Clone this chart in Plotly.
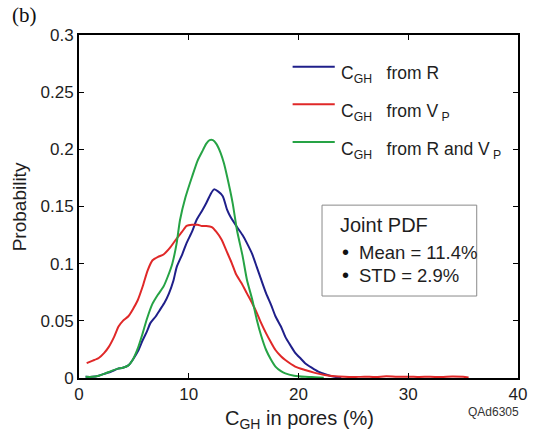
import plotly.graph_objects as go

# Concentration grid (%) and probability densities for each estimate
red_x = [0.7, 1.2, 1.8, 2.3, 2.7, 3.2, 3.6, 4.0, 4.5, 4.9, 5.35, 5.8, 6.25, 6.7, 7.2, 7.7, 8.3, 8.9,
         9.4, 9.8, 10.3, 10.8, 11.2, 11.6, 12.1, 12.5, 13.0, 13.4, 13.9, 14.3, 14.8, 15.3, 15.8, 16.2,
         16.6, 17.05, 17.5, 17.9, 18.4, 18.8, 19.7, 20.6, 21.5, 22.4, 23.3, 24.2, 25, 26, 27, 28, 29,
         30, 31, 32, 33, 34, 35, 35.5]
red_y = [0.013, 0.015, 0.0175, 0.022, 0.027, 0.036, 0.045, 0.050, 0.054, 0.060, 0.068, 0.080, 0.094,
         0.103, 0.106, 0.108, 0.114, 0.122, 0.128, 0.133, 0.134, 0.134, 0.133, 0.133, 0.132, 0.128,
         0.121, 0.112, 0.101, 0.091, 0.083, 0.074, 0.065, 0.057, 0.048, 0.039, 0.031, 0.0245, 0.019,
         0.0157, 0.010, 0.007, 0.0045, 0.0026, 0.0015, 0.001, 0.0008, 0.0012, 0.0008, 0.0015, 0.001,
         0.0012, 0.0009, 0.0011, 0.0008, 0.0013, 0.001, 0.0005]

blue_x = [0.6, 1.2, 1.8, 2.4, 2.9, 3.5, 4.0, 4.5, 4.9, 5.4, 5.8, 6.2, 6.5, 7.0, 7.4, 7.8, 8.2, 8.6,
          8.9, 9.4, 9.8, 10.3, 10.7, 11.2, 11.6, 12.0, 12.3, 12.7, 13.1, 13.5, 13.8, 14.4, 14.9, 15.3,
          15.8, 16.2, 16.6, 17.05, 17.5, 17.9, 18.4, 18.8, 19.3, 19.7, 20.2, 20.6, 21.2, 21.8, 22.5,
          23.3, 23.9]
blue_y = [0.001, 0.001, 0.002, 0.004, 0.0055, 0.008, 0.009, 0.011, 0.016, 0.024, 0.033, 0.041, 0.048,
          0.054, 0.060, 0.066, 0.074, 0.085, 0.097, 0.108, 0.118, 0.128, 0.138, 0.146, 0.153, 0.161,
          0.165, 0.163, 0.159, 0.147, 0.141, 0.132, 0.125, 0.118, 0.108, 0.097, 0.086, 0.074, 0.064,
          0.054, 0.045, 0.036, 0.028, 0.022, 0.017, 0.013, 0.009, 0.0055, 0.003, 0.001, 0.0005]

green_x = [0.6, 1.2, 1.8, 2.4, 2.9, 3.5, 4.0, 4.5, 4.9, 5.4, 5.8, 6.2, 6.7, 7.2, 7.7, 8.1, 8.5, 8.9,
           9.2, 9.7, 10.3, 10.8, 11.3, 11.6, 11.9, 12.2, 12.5, 12.9, 13.2, 13.5, 14.0, 14.4, 14.9,
           15.3, 15.8, 16.2, 16.6, 17.05, 17.5, 17.9, 18.4, 18.8, 19.6, 20.6, 21.5, 22.3]
green_y = [0.001, 0.001, 0.002, 0.004, 0.006, 0.008, 0.009, 0.011, 0.016, 0.027, 0.039, 0.052, 0.065,
           0.073, 0.080, 0.089, 0.100, 0.118, 0.138, 0.158, 0.176, 0.190, 0.1995, 0.205, 0.208, 0.208,
           0.205, 0.197, 0.188, 0.176, 0.153, 0.129, 0.107, 0.086, 0.068, 0.051, 0.037, 0.0245, 0.016,
           0.010, 0.006, 0.004, 0.002, 0.001, 0.0007, 0.0003]

series_names = ["C<sub>GH</sub>   from R", "C<sub>GH</sub>   from V<sub> P</sub>",
                "C<sub>GH</sub>   from R and V<sub> P</sub>"]
series_colors = ["#1f1f8a", "#e02828", "#26a345"]

x_ticks = [0, 10, 20, 30, 40]
y_ticks = [0, 0.05, 0.1, 0.15, 0.2, 0.25, 0.3]
y_tick_text = ["0", "0.05", "0.1", "0.15", "0.2", "0.25", "0.3"]

stats_lines = ["Mean = 11.4%", "STD = 2.9%"]

FONT = "Liberation Sans, Arial, sans-serif"
TXT = "#1e1e1e"

fig = go.Figure()
for xs, ys, name, col in zip([blue_x, red_x, green_x], [blue_y, red_y, green_y],
                             series_names, series_colors):
    fig.add_trace(go.Scatter(x=xs, y=ys, mode="lines", name=name,
                             line=dict(color=col, width=2, shape="spline", smoothing=0.6),
                             showlegend=False))

# Hand-placed key: short colored segment with its label slightly below
key_line_y = [0.9076, 0.798, 0.688]
for ly, name, col in zip(key_line_y, series_names, series_colors):
    fig.add_shape(type="line", xref="paper", yref="paper",
                  x0=0.4866, x1=0.5826, y0=ly, y1=ly, line=dict(color=col, width=2))
    fig.add_annotation(xref="paper", yref="paper", x=0.5915, y=ly - 0.024,
                       text=name, showarrow=False, xanchor="left", yanchor="middle",
                       font=dict(family=FONT, size=17.5, color=TXT))

# Summary box for the joint PDF
fig.add_shape(type="rect", xref="paper", yref="paper",
              x0=0.5536, x1=0.906, y0=0.239, y1=0.504,
              line=dict(color="#8a8a8a", width=1), fillcolor="white")
fig.add_annotation(xref="paper", yref="paper", x=0.590, y=0.446, xanchor="left", yanchor="middle",
                   text="Joint PDF", showarrow=False,
                   font=dict(family=FONT, size=20, color=TXT))
for ty, line in zip([0.367, 0.300], stats_lines):
    fig.add_annotation(xref="paper", yref="paper", x=0.606, y=ty, xanchor="center",
                       yanchor="middle", text="•", showarrow=False,
                       font=dict(family=FONT, size=20, color="#111"))
    fig.add_annotation(xref="paper", yref="paper", x=0.633, y=ty, xanchor="left",
                       yanchor="middle", text=line, showarrow=False,
                       font=dict(family=FONT, size=18.5, color=TXT))

# Axis titles
fig.add_annotation(xref="paper", yref="paper", x=0.503, y=-0.122, xanchor="center",
                   yanchor="middle", text="C<sub>GH</sub> in pores (%)", showarrow=False,
                   font=dict(family=FONT, size=20, color=TXT))
fig.add_annotation(xref="paper", yref="paper", x=-0.136, y=0.4985, xanchor="center",
                   yanchor="middle", text="Probability", textangle=-90, showarrow=False,
                   font=dict(family=FONT, size=19, color=TXT))

# Panel label and figure code
fig.add_annotation(xref="paper", yref="paper", x=-0.158, y=1.058, xanchor="left", yanchor="middle",
                   text="(b)", showarrow=False,
                   font=dict(family="Liberation Serif, Times New Roman, serif", size=21, color="#111"))
fig.add_annotation(xref="paper", yref="paper", x=1.007, y=-0.099, xanchor="right",
                   yanchor="middle", text="QAd6305", showarrow=False,
                   font=dict(family=FONT, size=12, color="#333"))

axis_common = dict(showline=True, linecolor="black", linewidth=2, mirror="ticks",
                   ticks="inside", ticklen=5, tickwidth=1, tickcolor="black",
                   showgrid=False, zeroline=False,
                   tickfont=dict(family=FONT, size=17, color=TXT))

fig.update_xaxes(range=[0, 40], tickvals=x_ticks, ticktext=[str(v) for v in x_ticks],
                 **axis_common)
fig.update_yaxes(range=[0, 0.3], tickvals=y_ticks, ticktext=y_tick_text,
                 **axis_common)

fig.update_layout(width=536, height=438,
                  margin=dict(l=79, r=9, t=35, b=60),
                  plot_bgcolor="white", paper_bgcolor="white")

fig.write_html("out.html")
